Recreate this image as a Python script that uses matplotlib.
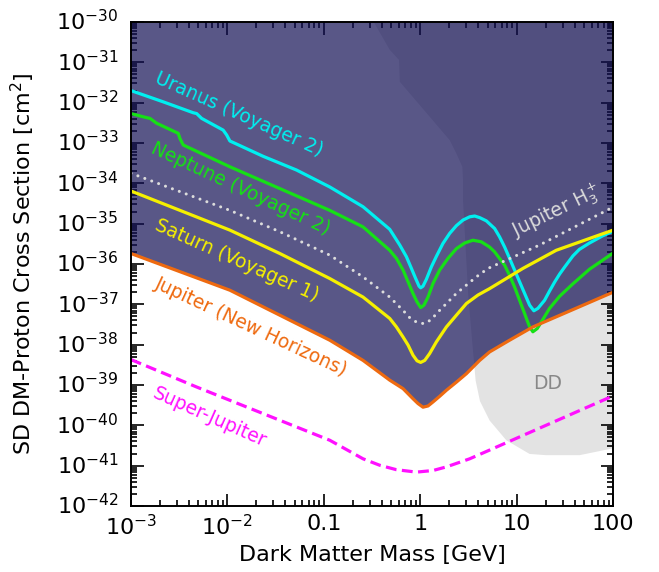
import numpy as np
import matplotlib
matplotlib.use("Agg")
import matplotlib.pyplot as plt
from matplotlib.ticker import LogLocator, NullFormatter, FixedLocator, FixedFormatter

# curves, stored as log10(mass / GeV) and log10(sigma / cm^2)
uranus_lm = [-3.0, -2.665, -2.354, -2.319, -2.267, -2.044, -2.008, -1.974, -1.629, -1.283,
             -0.938, -0.593, -0.316, -0.212, -0.143, -0.091, -0.047, -0.012, 0.005, 0.029,
             0.064, 0.116, 0.168, 0.236, 0.306, 0.375, 0.444, 0.513, 0.565, 0.617, 0.686,
             0.772, 0.824, 0.876, 0.927, 0.979, 1.031, 1.083, 1.135, 1.179, 1.221, 1.290,
             1.342, 1.394, 1.446, 1.497, 1.584, 1.650, 1.756, 1.894, 2.0]
uranus_ls = [-31.70, -31.98, -32.25, -32.27, -32.39, -32.68, -32.80, -32.95, -33.33, -33.67,
             -34.09, -34.58, -35.14, -35.53, -35.82, -36.11, -36.36, -36.55, -36.59, -36.55,
             -36.38, -36.07, -35.81, -35.49, -35.24, -35.05, -34.91, -34.83, -34.81, -34.85, -34.93,
             -35.12, -35.33, -35.58, -35.86, -36.15, -36.44, -36.73, -37.02, -37.16, -37.10, -36.90,
             -36.67, -36.45, -36.25, -36.08, -35.80, -35.64, -35.48, -35.30, -35.19]

neptune_lm = [-3.0, -2.873, -2.803, -2.734, -2.510, -2.492, -2.458, -1.974, -1.456, -0.938,
              -0.593, -0.316, -0.247, -0.178, -0.126, -0.075, -0.033, 0.005, 0.039, 0.081,
              0.133, 0.202, 0.288, 0.375, 0.461, 0.547, 0.634, 0.720, 0.772, 0.876, 0.927,
              0.979, 1.031, 1.083, 1.135, 1.169, 1.214, 1.256, 1.342, 1.446, 1.580, 1.756, 2.0]
neptune_ls = [-32.27, -32.35, -32.39, -32.51, -32.76, -32.89, -33.05, -33.59, -34.13, -34.67,
              -35.08, -35.66, -35.86, -36.15, -36.44, -36.73, -36.94, -37.08, -37.02, -36.82,
              -36.48, -36.15, -35.86, -35.62, -35.48, -35.41, -35.45, -35.58, -35.70, -36.03, -36.28,
              -36.57, -36.90, -37.23, -37.56, -37.68, -37.60, -37.44, -37.10, -36.80, -36.50, -36.13, -35.73]

h3_lm = [-3.0, -1.974, -1.456, -0.938, -0.593, -0.316, -0.178, -0.109, -0.039, 0.039, 0.116,
         0.168, 0.272, 0.375, 0.582, 0.703, 1.238, 2.0]
h3_ls = [-33.75, -34.67, -35.20, -35.78, -36.32, -36.82, -37.15, -37.33, -37.44, -37.48, -37.38,
         -37.23, -36.98, -36.73, -36.32, -36.11, -35.53, -34.59]

saturn_lm = [-3.0, -1.974, -1.456, -0.938, -0.593, -0.316, -0.247, -0.178, -0.126, -0.075, -0.033,
             0.005, 0.047, 0.098, 0.168, 0.272, 0.375, 0.479, 0.599, 0.720, 1.065, 1.411, 2.0]
saturn_ls = [-34.19, -35.16, -35.74, -36.36, -36.82, -37.35, -37.56, -37.81, -38.01, -38.26, -38.40,
             -38.44, -38.39, -38.22, -37.93, -37.56, -37.27, -36.98, -36.77, -36.61, -36.11, -35.66, -35.16]

jupiter_lm = [-3.0, -1.974, -1.456, -0.938, -0.593, -0.316, -0.178, -0.075, -0.023, 0.029, 0.081,
              0.133, 0.202, 0.272, 0.375, 0.479, 0.617, 0.720, 0.927, 1.169, 2.0]
jupiter_ls = [-35.74, -36.65, -37.27, -37.89, -38.39, -38.88, -39.09, -39.34, -39.46, -39.55, -39.52,
              -39.42, -39.28, -39.13, -38.93, -38.72, -38.39, -38.18, -37.89, -37.56, -36.70]

superjup_lm = [-3.0, -2.319, -1.629, -0.938, -0.593, -0.420, -0.247, -0.039, 0.133, 0.272, 0.513, 0.790, 2.0]
superjup_ls = [-38.37, -39.05, -39.71, -40.37, -40.83, -40.99, -41.10, -41.16, -41.12, -41.03, -40.83, -40.54, -39.27]

# direct detection region outline
dd_lm = [-0.506, -0.316, -0.220, -0.212, 0.306, 0.375, 0.437, 0.444, 0.444, 0.497, 0.538, 0.575,
         0.620, 0.720, 0.893, 1.135, 1.308, 1.653, 2.0, 2.1, 2.1]
dd_ls = [-29.9, -30.69, -30.94, -31.48, -32.93, -33.26, -33.59, -33.92, -34.42, -36.73, -37.89, -38.89,
         -39.40, -39.88, -40.37, -40.71, -40.74, -40.74, -40.57, -40.55, -29.9]

xtick_vals = [1e-3, 1e-2, 0.1, 1, 10, 100]
xtick_labels = [r"$10^{-3}$", r"$10^{-2}$", "0.1", "1", "10", "100"]
ytick_vals = [10.0 ** k for k in range(-42, -29)]

def pw(a):
    return 10.0 ** np.array(a)

fig = plt.figure(figsize=(6.59, 5.72), dpi=100)
ax = fig.add_axes([0.1988, 0.1154, 0.7314, 0.8461])
ax.set_xscale("log")
ax.set_yscale("log")

ax.fill(pw(dd_lm), pw(dd_ls), color="#e3e3e3", lw=0, zorder=1)
ax.fill_between(pw(jupiter_lm), pw(jupiter_ls), 1e-29, color="#131055", alpha=0.7, lw=0, zorder=2)

lw = 2.3
ax.plot(pw(uranus_lm), pw(uranus_ls), color="#00f0f0", lw=lw, zorder=4)
ax.plot(pw(neptune_lm), pw(neptune_ls), color="#16e016", lw=lw, zorder=4)
ax.plot(pw(h3_lm), pw(h3_ls), color="#dcdcdc", lw=2.2, ls=(0, (0.01, 2.4)), dash_capstyle="round", zorder=4)
ax.plot(pw(saturn_lm), pw(saturn_ls), color="#f5f000", lw=lw, zorder=4)
ax.plot(pw(jupiter_lm), pw(jupiter_ls), color="#ee6a10", lw=lw, zorder=4)
ax.plot(pw(superjup_lm), pw(superjup_ls), color="#ff10ff", lw=lw, ls=(0, (3.4, 1.7)), zorder=4)

txt = dict(ha="center", va="center", rotation_mode="anchor", fontsize=13.5, zorder=5)
ax.text(10**-1.881, 10**-32.28, "Uranus (Voyager 2)", color="#00f0f0", rotation=-24, **txt)
ax.text(10**-1.86, 10**-34.12, "Neptune (Voyager 2)", color="#16e016", rotation=-25, **txt)
ax.text(10**-1.90, 10**-35.90, "Saturn (Voyager 1)", color="#f5f000", rotation=-24, **txt)
ax.text(10**-1.75, 10**-37.55, "Jupiter (New Horizons)", color="#ee6a10", rotation=-25, **txt)
ax.text(10**-2.18, 10**-39.80, "Super-Jupiter", color="#ff10ff", rotation=-24, **txt)
ax.text(10**1.42, 10**-34.70, r"Jupiter H$_3^+$", color="#dcdcdc", rotation=26, **txt)
ax.text(10**1.32, 10**-38.96, "DD", color="#888888", ha="center", va="center", fontsize=13.5, zorder=5)

ax.set_xlim(1e-3, 100)
ax.set_ylim(1e-42, 1e-30)

ax.xaxis.set_major_locator(FixedLocator(xtick_vals))
ax.xaxis.set_major_formatter(FixedFormatter(xtick_labels))
ax.xaxis.set_minor_locator(LogLocator(base=10, subs=np.arange(2, 10), numticks=100))
ax.xaxis.set_minor_formatter(NullFormatter())
ax.yaxis.set_major_locator(FixedLocator(ytick_vals))
ax.yaxis.set_major_formatter(FixedFormatter([r"$10^{%d}$" % k for k in range(-42, -29)]))
ax.yaxis.set_minor_locator(LogLocator(base=10, subs=np.arange(2, 10), numticks=100))
ax.yaxis.set_minor_formatter(NullFormatter())

ax.tick_params(which="both", direction="in", top=True, right=True, width=1.2)
ax.tick_params(which="major", length=9, labelsize=16, pad=6)
ax.tick_params(axis="y", which="major", pad=9)
ax.tick_params(which="minor", length=4.5)
for s in ax.spines.values():
    s.set_linewidth(1.4)
    s.set_zorder(6)

ax.set_xlabel("Dark Matter Mass [GeV]", fontsize=16)
ax.set_ylabel(r"SD DM-Proton Cross Section [cm$^2$]", fontsize=16)
ax.yaxis.set_label_coords(-0.195, 0.5)

# centre the whole label (superscript included) on its tick so the top one stays inside
fig.canvas.draw()
for lab in ax.get_yticklabels():
    lab.set_verticalalignment("center")

fig.savefig("out.png", dpi=100)
